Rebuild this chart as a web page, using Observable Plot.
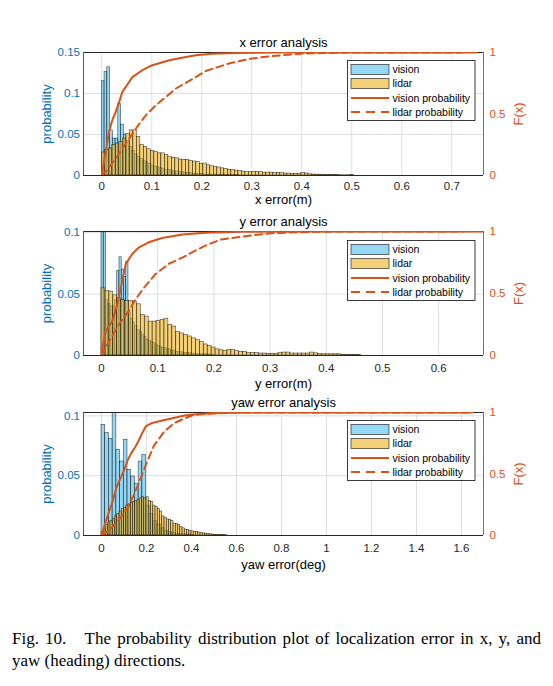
<!DOCTYPE html>
<html>
<head>
<meta charset="utf-8">
<script src="https://cdn.jsdelivr.net/npm/d3@7"></script>
<script src="https://cdn.jsdelivr.net/npm/@observablehq/plot@0.6"></script>
<style>
  html, body { margin: 0; padding: 0; background: #fff; }
  #root { position: relative; width: 553px; height: 686px; background: #fff; overflow: hidden; }
  .panel { position: absolute; left: 0; }
  .legend { position: absolute; left: 347px; }
  .cap { position: absolute; left: 12px; width: 529px; font-family: "Liberation Serif", "Times New Roman", serif; font-size: 17px; color: #000; white-space: nowrap; }
</style>
</head>
<body>
<div id="root"></div>
<script>
// ---------- data ----------
const xTicks = [0, 0.1, 0.2, 0.3, 0.4, 0.5, 0.6, 0.7];
const yTicksM = [0, 0.1, 0.2, 0.3, 0.4, 0.5, 0.6];
const yawTicks = [0, 0.2, 0.4, 0.6, 0.8, 1, 1.2, 1.4, 1.6];
const probTicks1 = [0, 0.05, 0.1, 0.15];
const probTicks23 = [0, 0.05, 0.1];
const cdfTickLabels = ["0", "0.5", "1"];

const titles = ["x error analysis", "y error analysis", "yaw error analysis"];
const xLabels = ["x error(m)", "y error(m)", "yaw error(deg)"];
const leftLabel = "probability";
const rightLabel = "F(x)";
const legendLabels = ["vision", "lidar", "vision probability", "lidar probability"];

// x error
const xVisionBinWidth = 0.0055;
const xVisionProb = [0.115, 0.126, 0.132, 0.055, 0.045, 0.045, 0.087, 0.062, 0.05, 0.042, 0.035, 0.03, 0.026, 0.023, 0.02, 0.018, 0.016, 0.014, 0.012, 0.011, 0.01, 0.009, 0.008, 0.007, 0.007, 0.006, 0.005, 0.005, 0.004, 0.004, 0.003, 0.003, 0.003, 0.002, 0.002, 0.002, 0.002, 0.001, 0.001, 0.001, 0.001, 0.001, 0.001, 0.001, 0.001, 0.0008, 0.0008, 0.0006, 0.0006, 0.0005];
const xLidarBinWidth = 0.007;
const xLidarProb = [0.028, 0.031, 0.033, 0.037, 0.039, 0.041, 0.045, 0.051, 0.055, 0.055, 0.047, 0.037, 0.035, 0.032, 0.030, 0.029, 0.027, 0.027, 0.025, 0.023, 0.0215, 0.021, 0.0195, 0.019, 0.019, 0.018, 0.017, 0.0166, 0.014, 0.0146, 0.0125, 0.0113, 0.0105, 0.0098, 0.0087, 0.008, 0.0066, 0.0066, 0.006, 0.0053, 0.0048, 0.0045, 0.004, 0.0045, 0.0045, 0.004, 0.0035, 0.0035, 0.0035, 0.003, 0.003, 0.0028, 0.0024, 0.0024, 0.002, 0.002, 0.002, 0.003, 0.0025, 0.0015, 0.0012, 0.001, 0.001, 0.0006, 0.0005, 0.0005, 0.0004, 0.0004, 0.0003, 0.0003, 0.0003, 0.0006];
const xVisionCdfErr = [0, 0.003, 0.008, 0.0147, 0.021, 0.028, 0.035, 0.041, 0.048, 0.061, 0.081, 0.101, 0.135, 0.168, 0.188, 0.22, 0.27, 0.35, 0.5, 0.75];
const xVisionCdfF   = [0, 0.08, 0.2, 0.36, 0.45, 0.52, 0.6, 0.68, 0.72, 0.80, 0.856, 0.897, 0.937, 0.964, 0.978, 0.99, 0.996, 0.999, 1, 1];
const xLidarCdfErr = [0, 0.01, 0.028, 0.048, 0.068, 0.088, 0.108, 0.148, 0.188, 0.208, 0.258, 0.298, 0.338, 0.405, 0.5, 0.72];
const xLidarCdfF   = [0, 0.04, 0.138, 0.26, 0.38, 0.49, 0.57, 0.707, 0.80, 0.85, 0.915, 0.95, 0.97, 0.992, 1, 1];

// y error
const yVisionBinWidth = 0.004;
const yVisionProb = [0.108, 0.11, 0.045, 0.042, 0.04, 0.04, 0.045, 0.069, 0.080, 0.070, 0.064, 0.076, 0.035, 0.03, 0.027, 0.024, 0.021, 0.019, 0.017, 0.015, 0.013, 0.012, 0.011, 0.01, 0.009, 0.008, 0.007, 0.006, 0.006, 0.005, 0.005, 0.004, 0.004, 0.003, 0.003, 0.003, 0.002, 0.002, 0.002, 0.002, 0.0015, 0.0015, 0.001, 0.001, 0.001, 0.001, 0.001, 0.0008, 0.0008, 0.0006];
const yLidarBinWidth = 0.007;
const yLidarProb = [0.0547, 0.0526, 0.052, 0.049, 0.0466, 0.045, 0.0444, 0.0444, 0.044, 0.0417, 0.033, 0.0317, 0.0276, 0.0276, 0.028, 0.029, 0.030, 0.025, 0.0236, 0.019, 0.018, 0.0168, 0.0155, 0.014, 0.0125, 0.011, 0.009, 0.0076, 0.0065, 0.005, 0.0043, 0.0038, 0.0045, 0.0045, 0.0035, 0.003, 0.003, 0.002, 0.0019, 0.0019, 0.0016, 0.0016, 0.0014, 0.0014, 0.0014, 0.002, 0.0024, 0.0024, 0.0016, 0.0016, 0.0016, 0.0016, 0.0016, 0.0024, 0.0018, 0.0014, 0.001, 0.001, 0.001, 0.001, 0.001, 0.0005, 0.0005, 0.0005, 0.0005, 0.0005];
const yVisionCdfErr = [0, 0.002, 0.008, 0.019, 0.028, 0.037, 0.043, 0.055, 0.066, 0.084, 0.108, 0.144, 0.185, 0.25, 0.4, 0.68];
const yVisionCdfF   = [0, 0.07, 0.2, 0.276, 0.41, 0.60, 0.737, 0.82, 0.87, 0.913, 0.948, 0.976, 0.99, 0.997, 1, 1];
const yLidarCdfErr = [0, 0.013, 0.031, 0.049, 0.06, 0.078, 0.096, 0.12, 0.144, 0.167, 0.185, 0.212, 0.247, 0.301, 0.378, 0.45, 0.645];
const yLidarCdfF   = [0, 0.11, 0.25, 0.36, 0.45, 0.56, 0.656, 0.74, 0.79, 0.846, 0.886, 0.935, 0.957, 0.986, 0.998, 1, 1];

// yaw error
const yawVisionBinWidth = 0.0165;
const yawVisionProb = [0.0925, 0.0855, 0.0808, 0.106, 0.0716, 0.0618, 0.080, 0.0549, 0.0493, 0.0429, 0.0618, 0.0674, 0.025, 0.018, 0.012, 0.009, 0.006, 0.004, 0.003, 0.002, 0.0015, 0.001, 0.001, 0.0008, 0.0005];
const yawLidarBinWidth = 0.01;
const yawLidarProb = [0.003, 0.006, 0.009, 0.011, 0.012, 0.014, 0.016, 0.018, 0.02, 0.022, 0.023, 0.025, 0.026, 0.027, 0.028, 0.029, 0.03, 0.031, 0.032, 0.031, 0.032, 0.029, 0.028, 0.025, 0.024, 0.022, 0.02, 0.016, 0.015, 0.0135, 0.013, 0.012, 0.01, 0.0095, 0.009, 0.007, 0.006, 0.005, 0.0045, 0.004, 0.0035, 0.003, 0.003, 0.0025, 0.002, 0.0018, 0.0015, 0.0012, 0.001, 0.0008, 0.0006, 0.0005, 0.0004, 0.0003, 0.0003, 0.0002];
const yawVisionCdfErr = [0, 0.0165, 0.033, 0.05, 0.066, 0.083, 0.1, 0.116, 0.132, 0.15, 0.165, 0.18, 0.198, 0.225, 0.27, 0.33, 0.37, 0.42, 0.5, 0.7, 1.65];
const yawVisionCdfF   = [0, 0.1, 0.19, 0.28, 0.39, 0.46, 0.53, 0.61, 0.67, 0.72, 0.77, 0.83, 0.89, 0.915, 0.935, 0.96, 0.975, 0.986, 0.996, 1, 1];
const yawLidarCdfErr = [0, 0.025, 0.07, 0.114, 0.144, 0.173, 0.203, 0.233, 0.277, 0.32, 0.366, 0.41, 0.47, 0.6, 1.63];
const yawLidarCdfF   = [0, 0.03, 0.11, 0.22, 0.33, 0.46, 0.6, 0.73, 0.84, 0.91, 0.95, 0.98, 0.99, 1, 1];

const captionLine1 = "Fig. 10.\u00a0\u00a0 The probability distribution plot of localization error in x, y, and";
const captionLine2 = "yaw (heading) directions.";

// ---------- helpers ----------
const blue = "#0072BD", orange = "#D95319", visionFill = "#4DBEEE", lidarFill = "#EDB120";
const gridColor = "#dfdfdf", axisColor = "#262626";
const font = "'Liberation Sans', Arial, Helvetica, sans-serif";

const bins = (w, probs) => probs.map((p, i) => ({x1: i * w, x2: (i + 1) * w, y1: 0, y2: p}));
const cdf = (errs, fs) => errs.map((e, i) => ({e, F: fs[i]}));
const fmt = d3.format("~g");

const panels = [
  {top: 30, mt: 22, h: 123, xDomain: [-0.0366, 0.7634], xt: xTicks, ymax: 0.15, yt: probTicks1, xlabDy: 24, tickPad: 6.5,
   vision: bins(xVisionBinWidth, xVisionProb), lidar: bins(xLidarBinWidth, xLidarProb),
   vc: cdf(xVisionCdfErr, xVisionCdfF), lc: cdf(xLidarCdfErr, xLidarCdfF), legendTop: 60},
  {top: 208, mt: 23, h: 124, xDomain: [-0.032, 0.6797], xt: yTicksM, ymax: 0.101, yt: probTicks23, xlabDy: 28, tickPad: 8,
   vision: bins(yVisionBinWidth, yVisionProb), lidar: bins(yLidarBinWidth, yLidarProb),
   vc: cdf(yVisionCdfErr, yVisionCdfF), lc: cdf(yLidarCdfErr, yLidarCdfF), legendTop: 240},
  {top: 390, mt: 22, h: 123, xDomain: [-0.08, 1.698], xt: yawTicks, ymax: 0.1028, yt: probTicks23, xlabDy: 29, tickPad: 8,
   vision: bins(yawVisionBinWidth, yawVisionProb), lidar: bins(yawLidarBinWidth, yawLidarProb),
   vc: cdf(yawVisionCdfErr, yawVisionCdfF), lc: cdf(yawLidarCdfErr, yawLidarCdfF), legendTop: 420}
];

const root = document.getElementById("root");

panels.forEach((P, k) => {
  const ymax = P.ymax;
  const mb = 40;
  const chart = Plot.plot({
    width: 553,
    height: P.mt + P.h + mb,
    marginTop: P.mt, marginBottom: mb, marginLeft: 83, marginRight: 70,
    style: {fontFamily: font, fontSize: "11.5px", background: "transparent", overflow: "visible", color: axisColor},
    x: {domain: P.xDomain},
    y: {domain: [0, ymax]},
    marks: [
      Plot.gridX(P.xt, {stroke: gridColor, strokeOpacity: 1}),
      Plot.gridY(P.yt.filter(t => t > 0 && t < ymax * 0.999), {stroke: gridColor, strokeOpacity: 1}),
      Plot.rect(P.vision, {x1: "x1", x2: "x2", y1: "y1", y2: "y2", fill: visionFill, fillOpacity: 0.6, stroke: "#000", strokeOpacity: 0.7, strokeWidth: 0.6, clip: true}),
      Plot.rect(P.lidar, {x1: "x1", x2: "x2", y1: "y1", y2: "y2", fill: lidarFill, fillOpacity: 0.6, stroke: "#000", strokeOpacity: 0.7, strokeWidth: 0.6, clip: true}),
      Plot.ruleY([0], {stroke: axisColor, strokeWidth: 1}),
      Plot.ruleY([ymax], {stroke: axisColor, strokeWidth: 1}),
      Plot.ruleX([P.xDomain[0]], {stroke: blue, strokeWidth: 1}),
      Plot.ruleX([P.xDomain[1]], {stroke: orange, strokeWidth: 1}),
      Plot.line(P.vc, {x: "e", y: d => d.F * ymax, stroke: orange, strokeWidth: 2, clip: true}),
      Plot.line(P.lc, {x: "e", y: d => d.F * ymax, stroke: orange, strokeWidth: 2, strokeDasharray: "7,4.5", clip: true}),
      Plot.axisX({ticks: P.xt, tickSize: 0, tickPadding: P.tickPad, tickFormat: fmt, label: null, color: axisColor}),
      Plot.axisY({ticks: P.yt, tickSize: 0, tickPadding: 3.5, tickFormat: fmt, label: null, color: blue}),
      Plot.axisY({anchor: "right", ticks: [0, ymax / 2, ymax], tickSize: 0, tickPadding: 6, label: null, color: orange,
                  tickFormat: d => cdfTickLabels[Math.round(d / ymax * 2)]}),
      Plot.text([titles[k]], {frameAnchor: "top", lineAnchor: "middle", textAnchor: "middle", dy: -10, fontSize: 13, fill: "#000"}),
      Plot.text([xLabels[k]], {frameAnchor: "bottom", lineAnchor: "middle", textAnchor: "middle", dy: P.xlabDy, fontSize: 13, fill: "#000"}),
      Plot.text([leftLabel], {frameAnchor: "left", lineAnchor: "middle", textAnchor: "middle", dx: -37, rotate: -90, fontSize: 13, fill: blue}),
      Plot.text([rightLabel], {frameAnchor: "right", lineAnchor: "middle", textAnchor: "middle", dx: 35, rotate: -90, fontSize: 13, fill: orange})
    ]
  });
  chart.classList.add("panel");
  chart.style.position = "absolute";
  chart.style.top = P.top + "px";
  chart.style.left = "0px";
  root.appendChild(chart);

  // legend
  const ns = "http://www.w3.org/2000/svg";
  const lg = document.createElementNS(ns, "svg");
  lg.setAttribute("width", 129);
  lg.setAttribute("height", 62);
  lg.setAttribute("class", "legend");
  lg.style.top = P.legendTop + "px";
  const rowsY = [9.5, 23.5, 38, 52];
  let html = `<rect x="0.5" y="0.5" width="127.5" height="60" fill="#fff" stroke="${axisColor}" stroke-width="0.9"/>`;
  html += `<rect x="4" y="${rowsY[0] - 5}" width="38" height="10" fill="${visionFill}" fill-opacity="0.6" stroke="#000" stroke-opacity="0.8" stroke-width="0.7"/>`;
  html += `<rect x="4" y="${rowsY[1] - 5}" width="38" height="10" fill="${lidarFill}" fill-opacity="0.6" stroke="#000" stroke-opacity="0.8" stroke-width="0.7"/>`;
  html += `<line x1="4" x2="42" y1="${rowsY[2]}" y2="${rowsY[2]}" stroke="${orange}" stroke-width="2"/>`;
  html += `<line x1="4" x2="42" y1="${rowsY[3]}" y2="${rowsY[3]}" stroke="${orange}" stroke-width="2" stroke-dasharray="9,6"/>`;
  legendLabels.forEach((t, i) => {
    html += `<text x="45.5" y="${rowsY[i]}" dy="0.35em" font-family="${font.replace(/'/g, "")}" font-size="10.5" fill="#000">${t}</text>`;
  });
  lg.innerHTML = html;
  root.appendChild(lg);
});

// caption
const c1 = document.createElement("div");
c1.className = "cap";
c1.style.top = "629px";
c1.style.textAlign = "justify";
c1.style.textAlignLast = "justify";
c1.style.whiteSpace = "normal";
c1.textContent = captionLine1;
root.appendChild(c1);
const c2 = document.createElement("div");
c2.className = "cap";
c2.style.top = "651px";
c2.textContent = captionLine2;
root.appendChild(c2);
</script>
</body>
</html>
